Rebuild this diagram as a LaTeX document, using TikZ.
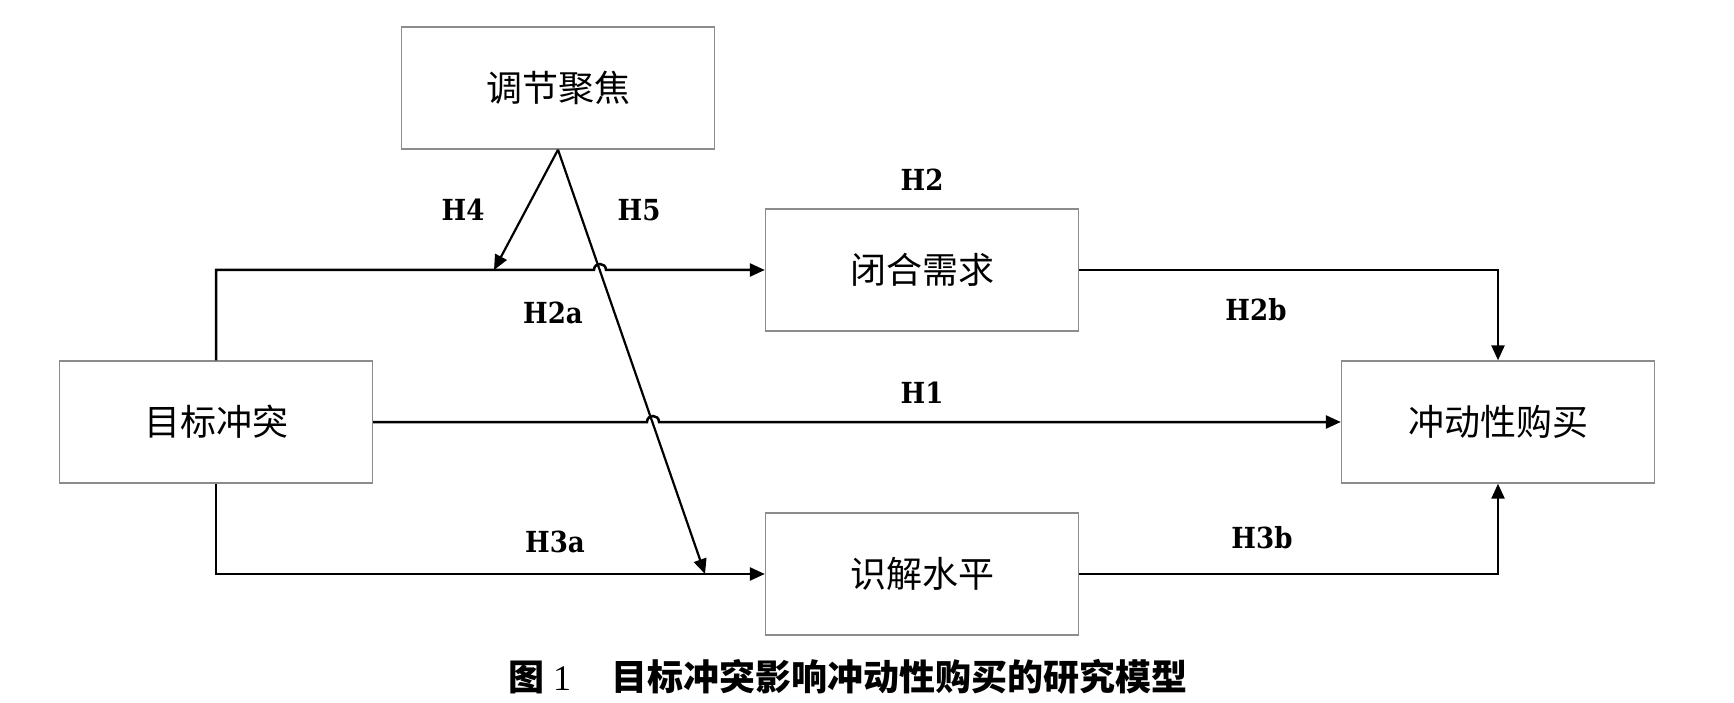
\documentclass[tikz,border=0pt]{standalone}
\usepackage{fontspec}
\newfontfamily\cjk{Noto Sans CJK SC}
\newfontfamily\labfont{DejaVu Serif Condensed}
\setmainfont{Liberation Serif}
\usetikzlibrary{arrows.meta,calc}
\begin{document}
\begin{tikzpicture}[x=1pt,y=-1pt,
  box/.style={draw=black!45,line width=1.4pt,minimum width=313pt,minimum height=122pt,inner sep=0pt,font=\cjk\fontsize{36}{40}\selectfont},
  lab/.style={inner sep=0pt,font=\labfont\bfseries\fontsize{29}{32}\selectfont},
  arr/.style={line width=2.5pt,-{Triangle[length=15pt,width=13pt]}}]
\useasboundingbox (0,0) rectangle (1734,703);
\node[box] (tj) at (558,88) {调节聚焦};
\node[box] (gc) at (216,422) {目标冲突};
\node[box] (bh) at (922,270) {闭合需求};
\node[box] (ss) at (922,574) {识解水平};
\node[box] (ib) at (1498,422) {冲动性购买};
% coordinates
\coordinate (h4end) at (494,270);
\coordinate (h5end) at (705,574);
\coordinate (hopA) at (600,270);
\coordinate (hopB) at (653,422);
% top path with hop
\draw[arr] (gc.north) -- (gc.north |- bh.west) -- ($(hopA)+(-6,0)$) .. controls ($(hopA)+(-6,-8)$) and ($(hopA)+(6,-8)$) .. ($(hopA)+(6,0)$) -- (bh.west);
% middle path with hop
\draw[arr] (gc.east) -- ($(hopB)+(-6,0)$) .. controls ($(hopB)+(-6,-8)$) and ($(hopB)+(6,-8)$) .. ($(hopB)+(6,0)$) -- (ib.west);
% bottom path
\draw[arr] (gc.south) |- (ss.west);
% right paths
\draw[arr] (bh.east) -| (ib.north);
\draw[arr] (ss.east) -| (ib.south);
% moderator arrows
\draw[arr,line width=2.2pt] (tj.south) -- (h4end);
\draw[arr,line width=2.2pt] (tj.south) -- (h5end);
% labels
\node[lab] (lH4) at (463,210) {H4};
\node[lab] (lH5) at (639,210) {H5};
\node[lab] (lH2) at (922,180) {H2};
\node[lab] (lH2a) at (553,313) {H2a};
\node[lab] (lH2b) at (1256,310) {H2b};
\node[lab] (lH1) at (922,393) {H1};
\node[lab] (lH3a) at (555,542) {H3a};
\node[lab] (lH3b) at (1262,538) {H3b};
% caption
\node[anchor=west,inner sep=0pt,font=\fontsize{36}{40}\selectfont] (cap) at (508,677) {{\cjk\bfseries 图}\hspace{9pt}1\hspace{40pt}{\cjk\bfseries 目标冲突影响冲动性购买的研究模型}};
\end{tikzpicture}
\end{document}
